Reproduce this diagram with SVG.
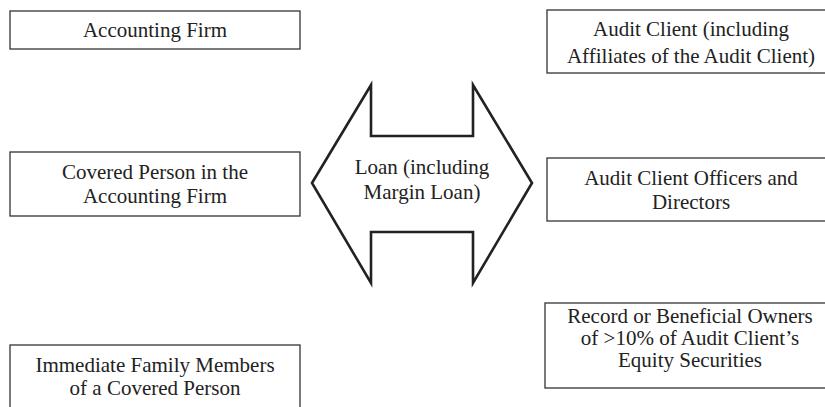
<svg xmlns="http://www.w3.org/2000/svg" width="825" height="407" viewBox="0 0 825 407">
<style>
.box{fill:#fff;stroke:#333;stroke-width:1.3}
.t{font-family:"Liberation Serif","Times New Roman",serif;font-size:21px;fill:#222;text-anchor:middle}
.arrow{fill:#fff;stroke:#222;stroke-width:2.6;stroke-linejoin:miter}
</style>
<rect width="825" height="407" fill="#fff"/>
<g id="accounting-firm">
<rect class="box" x="10" y="11" width="290" height="38"/>
<text class="t" x="155" y="37">Accounting Firm</text>
</g>
<g id="covered-person">
<rect class="box" x="10" y="152" width="290" height="64"/>
<text class="t" x="155" y="179">Covered Person in the</text>
<text class="t" x="155" y="203">Accounting Firm</text>
</g>
<g id="immediate-family">
<rect class="box" x="10" y="345" width="290" height="80"/>
<text class="t" x="155" y="372">Immediate Family Members</text>
<text class="t" x="155" y="395">of a Covered Person</text>
</g>
<g id="audit-client">
<rect class="box" x="547" y="10" width="300" height="63"/>
<text class="t" x="691" y="36">Audit Client (including</text>
<text class="t" x="691" y="63">Affiliates of the Audit Client)</text>
</g>
<g id="officers-directors">
<rect class="box" x="547" y="158" width="300" height="63"/>
<text class="t" x="691" y="185">Audit Client Officers and</text>
<text class="t" x="691" y="209">Directors</text>
</g>
<g id="beneficial-owners">
<rect class="box" x="545" y="303" width="300" height="85"/>
<text class="t" x="690" y="323">Record or Beneficial Owners</text>
<text class="t" x="690" y="345">of &gt;10% of Audit Client’s</text>
<text class="t" x="690" y="367">Equity Securities</text>
</g>
<g id="connectors">
<g id="loan-arrow">
<polygon class="arrow" points="312,183 371,85 371,136 473,136 473,85 532,183 473,283 473,232 371,232 371,283"/>
<text class="t" x="422" y="174">Loan (including</text>
<text class="t" x="422" y="199">Margin Loan)</text>
</g>
</g>
</svg>
